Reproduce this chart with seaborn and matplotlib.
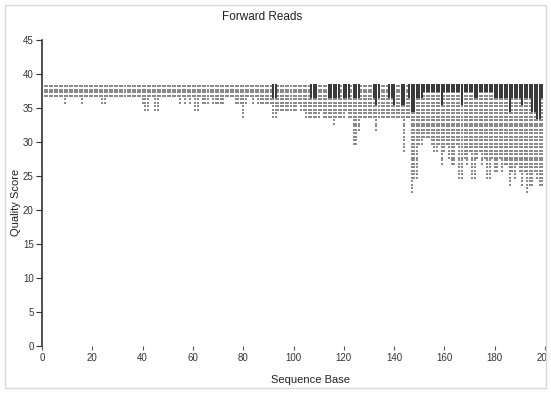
import numpy as np, pandas as pd, matplotlib
matplotlib.use("Agg")
import matplotlib.pyplot as plt; import seaborn as sns
from matplotlib.patches import Rectangle
from matplotlib.path import Path

sns.set_style("white")
plt.rcParams['font.family'] = ['Liberation Sans', 'DejaVu Sans']

# ── data: per-base lowest quality seen, and lowest quality drawn as a dense (dark) cell ──
bases = list(range(1, 200))
q_max = 38
q_min = [
    37, 37, 37, 37, 37, 37, 37, 37, 36, 37, 37, 37, 37, 37, 37, 36, 37, 37, 37, 37,
    37, 37, 37, 36, 36, 37, 37, 37, 37, 37, 37, 37, 37, 37, 37, 37, 37, 37, 37, 36,
    35, 35, 37, 37, 35, 35, 37, 37, 37, 37, 37, 37, 37, 37, 36, 37, 36, 37, 36, 37,
    35, 35, 37, 36, 36, 36, 37, 36, 36, 36, 36, 36, 37, 37, 37, 37, 36, 36, 36, 34,
    36, 37, 37, 36, 37, 36, 36, 36, 36, 36, 36, 34, 34, 35, 35, 35, 35, 35, 35, 35,
    35, 36, 35, 35, 34, 34, 34, 34, 34, 34, 35, 34, 34, 34, 34, 33, 34, 34, 34, 34,
    35, 34, 34, 30, 30, 32, 34, 34, 34, 34, 34, 34, 32, 34, 34, 34, 34, 34, 34, 34,
    34, 34, 34, 29, 34, 34, 23, 25, 25, 30, 30, 31, 31, 31, 30, 29, 29, 30, 27, 29,
    30, 28, 27, 27, 30, 25, 25, 28, 27, 29, 25, 25, 28, 29, 27, 28, 25, 25, 28, 26,
    26, 28, 26, 27, 27, 24, 26, 25, 27, 26, 24, 26, 23, 24, 24, 26, 25, 24, 24]
q_dark = [
    39, 39, 39, 39, 39, 39, 39, 39, 39, 39, 39, 39, 39, 39, 39, 39, 39, 39, 39, 39,
    39, 39, 39, 39, 39, 39, 39, 39, 39, 39, 39, 39, 39, 39, 39, 39, 39, 39, 39, 39,
    39, 39, 39, 39, 39, 39, 39, 39, 39, 39, 39, 39, 39, 39, 39, 39, 39, 39, 39, 39,
    39, 39, 39, 39, 39, 39, 39, 39, 39, 39, 39, 39, 39, 39, 39, 39, 39, 39, 39, 39,
    39, 39, 39, 39, 39, 39, 39, 39, 39, 39, 39, 37, 37, 39, 39, 39, 39, 39, 39, 39,
    39, 39, 39, 39, 39, 39, 37, 37, 37, 39, 39, 39, 39, 37, 37, 37, 37, 37, 39, 37,
    37, 37, 39, 37, 37, 37, 39, 39, 39, 39, 39, 37, 36, 37, 39, 39, 39, 37, 37, 36,
    39, 39, 36, 36, 39, 37, 35, 35, 37, 37, 37, 38, 38, 38, 38, 38, 38, 38, 36, 38,
    38, 38, 38, 38, 38, 38, 36, 38, 38, 38, 38, 37, 37, 38, 38, 38, 38, 38, 38, 37,
    37, 37, 37, 37, 37, 35, 37, 37, 37, 37, 36, 37, 37, 37, 35, 35, 34, 34, 37]

rows = []
for b, lo, dk in zip(bases, q_min, q_dark):
    for q in range(lo, q_max + 1):
        rows.append((b, q, "dark" if q >= dk else "light"))
df = pd.DataFrame(rows, columns=["base", "quality", "level"])

W, H = 551, 394
fig = plt.figure(figsize=(W/100, H/100), dpi=100)
ax = fig.add_axes([42/W, 48/H, 503/W, 306/H])

# light cell = two small stacked dots (gives the dotted texture), dark cell = solid block
R = Path.MOVETO, Path.LINETO, Path.LINETO, Path.LINETO, Path.CLOSEPOLY
light_cell = Path([(-0.3, -1), (0.3, -1), (0.3, -0.2), (-0.3, -0.2), (0, 0),
                   (-0.3, 0.2), (0.3, 0.2), (0.3, 1), (-0.3, 1), (0, 0)], list(R) * 2)
dark_cell = [(-0.38, -1), (0.38, -1), (0.38, 1), (-0.38, 1)]
sns.scatterplot(data=df[df.level == "light"], x="base", y="quality", ax=ax,
                marker=light_cell, s=16, color="#8a8a8a", linewidth=0, legend=False)
sns.scatterplot(data=df[df.level == "dark"], x="base", y="quality", ax=ax,
                marker=dark_cell, s=26, color="#3a3a3a", linewidth=0, legend=False)

ax.set_xlim(0, 200); ax.set_ylim(0, 45)
ax.set_xticks(range(0, 201, 20)); ax.set_yticks(range(0, 46, 5))
ax.set_xlabel(""); ax.set_ylabel("")
for s in ["top", "right", "bottom"]:
    ax.spines[s].set_visible(False)
ax.spines["left"].set_color("#333333"); ax.spines["left"].set_linewidth(1.2)
ax.tick_params(axis="y", direction="out", length=4, width=0.8, color="#333333",
               labelsize=7, labelcolor="#333333", pad=2, left=True)
ax.tick_params(axis="x", direction="out", length=3, width=0.8, color="#555555",
               labelsize=7, labelcolor="#333333", pad=2, bottom=True)

fig.text(262/W, 1 - 17/H, "Forward Reads", ha="center", va="center", fontsize=8.5, color="#222222")
fig.text(311/W, 1 - 380/H, "Sequence Base", ha="center", va="center", fontsize=8, color="#222222")
fig.text(16/W, 1 - 202/H, "Quality Score", ha="center", va="center", rotation=90, fontsize=8, color="#222222")

# chart is clipped at the right edge, with a light frame round it
fig.add_artist(Rectangle((546/W, 0), 5/W, 1, transform=fig.transFigure, facecolor="white",
                         edgecolor="none", zorder=5))
fig.add_artist(Rectangle((5/W, 6/H), 541/W, 383/H, transform=fig.transFigure, fill=False,
                         edgecolor="#d9d9d9", linewidth=1, zorder=6))

fig.savefig("out.png", dpi=100)
